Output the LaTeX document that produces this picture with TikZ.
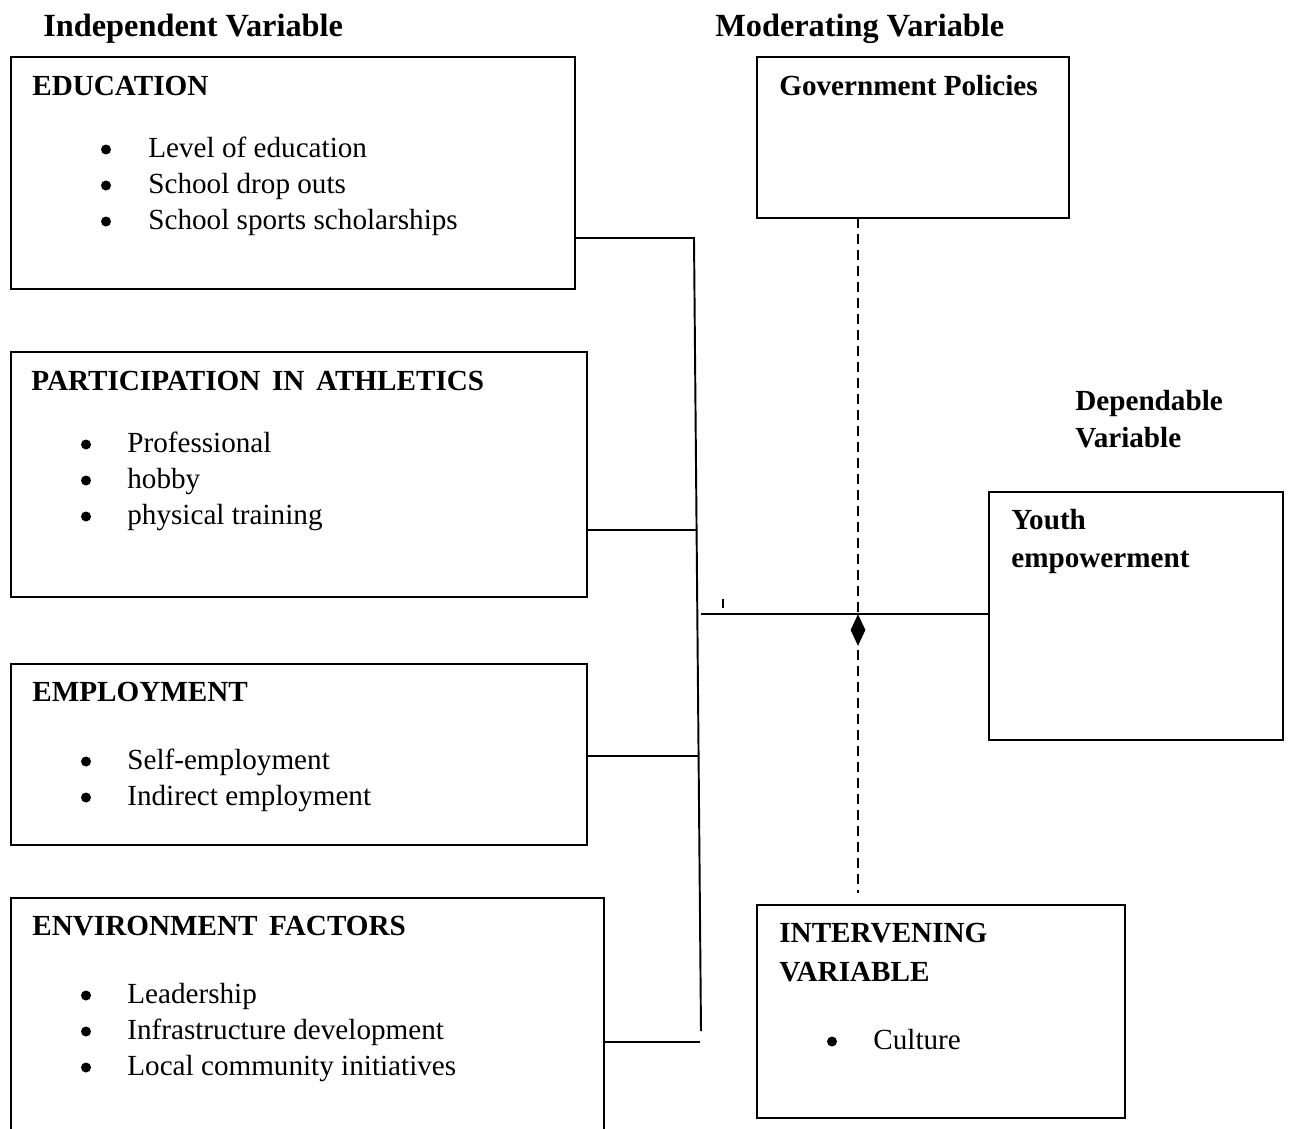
\documentclass[tikz,border=0pt]{standalone}
\usepackage{fontspec}
\setmainfont{Liberation Serif}
\usetikzlibrary{shapes.geometric, positioning}

\begin{document}
\begin{tikzpicture}[
  x=0.02cm, y=-0.02cm,
  box/.style={draw, line width=1.1pt, anchor=north west, inner sep=0pt, outer sep=0pt},
  ttl/.style={font=\fontsize{18.4}{22}\selectfont\bfseries, anchor=base west, inner sep=0pt},
  hdr/.style={font=\fontsize{16.6}{20.5}\selectfont\bfseries, anchor=base west, inner sep=0pt},
  wsp/.style={execute at begin node={\spaceskip=0.4em\relax}},
  itm/.style={font=\fontsize{16.6}{20.5}\selectfont, anchor=base west, inner sep=0pt},
  bul/.style={circle, fill=black, inner sep=0pt, minimum size=0.2cm},
  lnk/.style={line width=1.1pt},
  dsh/.style={line width=1.5pt, dash pattern=on 0.2cm off 0.12cm}
]
\clip (0,0) rectangle (1289,1129);

%% ── Column titles
\node[ttl] (tind) at (43,36)  {Independent Variable};
\node[ttl] (tmod) at (715,36) {Moderating Variable};
\foreach \t [count=\i] in {Dependable, Variable}
  \node[hdr] (tdep\i) at (1075,373+37*\i) {\t};

%% ── Independent variable boxes
\node[box, minimum width=11.28cm, minimum height=4.64cm] (edu) at (11,57)  {};
\node[box, minimum width=11.52cm, minimum height=4.9cm]  (ath) at (11,352) {};
\node[box, minimum width=11.52cm, minimum height=3.62cm] (emp) at (11,664) {};
\node[box, minimum width=11.86cm, minimum height=5.4cm]  (env) at (11,898) {};

\node[hdr] (hedu) at (32,95)  {EDUCATION};
\node[hdr, wsp] (hath) at (31,390) {PARTICIPATION IN ATHLETICS};
\node[hdr] (hemp) at (32,701) {EMPLOYMENT};
\node[hdr, wsp] (henv) at (32,935) {ENVIRONMENT FACTORS};

\foreach \t [count=\i] in {Level of education, School drop outs, School sports scholarships}{
  \node[bul] (bedu\i) at (106,113.5+36*\i) {};
  \node[itm] (iedu\i) at (148,121+36*\i) {\t};
}
\foreach \t [count=\i] in {Professional, hobby, physical training}{
  \node[bul] (bath\i) at (86,408.5+36*\i) {};
  \node[itm] (iath\i) at (127,416+36*\i) {\t};
}
\foreach \t [count=\i] in {Self-employment, Indirect employment}{
  \node[bul] (bemp\i) at (86,725.5+36*\i) {};
  \node[itm] (iemp\i) at (127,733+36*\i) {\t};
}
\foreach \t [count=\i] in {Leadership, Infrastructure development, Local community initiatives}{
  \node[bul] (benv\i) at (86,959.5+36*\i) {};
  \node[itm] (ienv\i) at (127,967+36*\i) {\t};
}

%% ── Moderating, dependent and intervening boxes
\node[box, minimum width=6.24cm, minimum height=3.22cm] (gov)  at (757,57)  {};
\node[box, minimum width=5.88cm, minimum height=4.96cm] (yth)  at (989,492) {};
\node[box, minimum width=7.36cm, minimum height=4.26cm] (ivar) at (757,905) {};

\node[hdr] (hgov) at (779,95) {Government Policies};
\foreach \t [count=\i] in {Youth, empowerment}
  \node[hdr] (hyth\i) at (1011,491+38*\i) {\t};
\foreach \t [count=\i] in {INTERVENING, VARIABLE}
  \node[hdr] (hivar\i) at (779,903+39*\i) {\t};
\node[bul] (bivar) at (832,1041.5) {};
\node[itm] (iivar) at (873,1049) {Culture};

%% ── Bus collecting the independent variables
\coordinate (bt) at (694,238);
\coordinate (bb) at (701,1031);
\coordinate (jn) at (701,614);
\coordinate (tk) at (723,599);

\draw[lnk] (bt -| edu.east) -- (bt) -- (bb);
\draw[lnk] (ath.east |- 0,530)  -- (697,530);
\draw[lnk] (emp.east |- 0,756)  -- (699,756);
\draw[lnk] (env.east |- 0,1042) -- (700,1042);
\draw[lnk] (jn) -- (jn -| yth.west);
\draw[line width=0.8pt] (tk) -- ++(0,9);

%% ── Moderating / intervening link
\node[diamond, fill=black, inner sep=0pt, minimum width=0.3cm, minimum height=0.64cm]
  (dia) at (858,630) {};
\draw[dsh, shorten >=0.24cm] (dia |- gov.south) -- (dia |- ivar.north);

\end{tikzpicture}
\end{document}
